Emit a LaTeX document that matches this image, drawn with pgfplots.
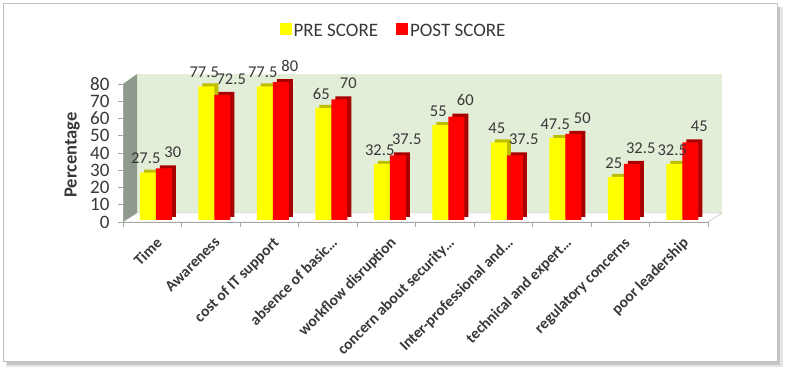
\documentclass[border=0pt]{standalone}
\usepackage{pgfplots}
\pgfplotsset{compat=1.18}
\usepackage{fontspec}
\setmainfont{Carlito}
\definecolor{wall}{HTML}{E3EED9}
\definecolor{side}{HTML}{8E9A8C}
\definecolor{ylw}{HTML}{FFFF00}
\definecolor{ylwdark}{HTML}{BDBD00}
\definecolor{rd}{HTML}{FF0000}
\definecolor{rddark}{HTML}{A80000}
\definecolor{txt}{HTML}{383838}
\begin{document}
\begin{tikzpicture}
\path[use as bounding box] (0,0) rectangle (789bp,373bp);
\fill[gray!20] (6bp,6bp) rectangle (783bp,366bp);
\fill[gray!45] (7bp,8bp) rectangle (780bp,366bp);
\filldraw[fill=white, draw=gray!50] (3.5bp,12bp) rectangle (777bp,369.5bp);
\fill[wall] (137bp,160bp) rectangle (722bp,299bp);
\fill[side] (123bp,151bp) -- (137bp,160bp) -- (137bp,299bp) -- (123bp,289bp) -- cycle;
\filldraw[fill=white, draw=gray!60] (123bp,151bp) -- (137bp,160bp) -- (722bp,160bp) -- (708bp,151bp) -- cycle;
\begin{axis}[
  at={(123bp,151bp)}, anchor=south west,
  scale only axis, width=585bp, height=138bp,
  clip=false,
  ybar,
  /pgf/number format/assume math mode=true,
  xmin=0.5, xmax=10.5, ymin=0, ymax=80,
  xtick={1,...,10},
  xticklabels={Time, Awareness, cost of IT support, absence of basic…, workflow disruption, concern about security…, Inter-professional and…, technical and expert…, regulatory concerns, poor leadership},
  minor xtick={0.5,1.5,...,10.5},
  ytick={0,10,...,80},
  axis x line*=bottom, axis y line*=left,
  axis line style={gray!70, line width=0.8bp},
  tick align=outside,
  major tick length=5bp, minor tick length=5bp,
  every major x tick/.style={draw=none},
  every minor x tick/.style={gray!70, line width=0.8bp},
  every major y tick/.style={gray!70, line width=0.8bp},
  yticklabel style={font=\fontsize{19bp}{21bp}\selectfont, text=txt, xshift=-5bp},
  xticklabel style={font=\bfseries\fontsize{15.5bp}{17bp}\selectfont, text=txt, rotate=45, anchor=north east, xshift=-1bp, yshift=-5bp},
  ylabel={\bfseries Percentage},
  ylabel style={font=\fontsize{18.5bp}{20bp}\selectfont, text=txt, at={(axis description cs:-0.087,0.486)}, anchor=center, rotate=0},
  legend style={draw=none, fill=none, at={(axis description cs:0.4624,1.384)}, anchor=center, legend columns=2, font=\fontsize{19bp}{21bp}\selectfont, text=txt, /tikz/every even column/.append style={column sep=16bp}},
  legend image code/.code={\fill[#1] (0bp,-6bp) rectangle (12bp,6bp);},
  bar width=16bp,
  nodes near coords,
  every node near coord/.append style={font=\fontsize{16.5bp}{18bp}\selectfont, text=txt, anchor=south, yshift=5bp},
]
% 3D depth (dark copies)
\addplot[fill=ylwdark, draw=none, bar shift=-4.5bp, xshift=4bp, yshift=5bp, nodes near coords={}, forget plot] coordinates {(1,27.5) (2,77.5) (3,77.5) (4,65) (5,32.5) (6,55) (7,45) (8,47.5) (9,25) (10,32.5)};
\addplot[fill=ylw, draw=none, bar shift=-4.5bp, yshift=2bp, every node near coord/.append style={xshift=-2bp}] coordinates {(1,27.5) (2,77.5) (3,77.5) (4,65) (5,32.5) (6,55) (7,45) (8,47.5) (9,25) (10,32.5)};
\addlegendentry{PRE SCORE}
\addplot[fill=rddark, draw=none, bar shift=11.5bp, xshift=4bp, yshift=5bp, nodes near coords={}, forget plot] coordinates {(1,30) (2,72.5) (3,80) (4,70) (5,37.5) (6,60) (7,37.5) (8,50) (9,32.5) (10,45)};
\addplot[fill=rd, draw=none, bar shift=11.5bp, yshift=2bp, every node near coord/.append style={xshift=9bp, yshift=2bp}] coordinates {(1,30) (2,72.5) (3,80) (4,70) (5,37.5) (6,60) (7,37.5) (8,50) (9,32.5) (10,45)};
\addlegendentry{POST SCORE}
\end{axis}
\end{tikzpicture}
\end{document}
